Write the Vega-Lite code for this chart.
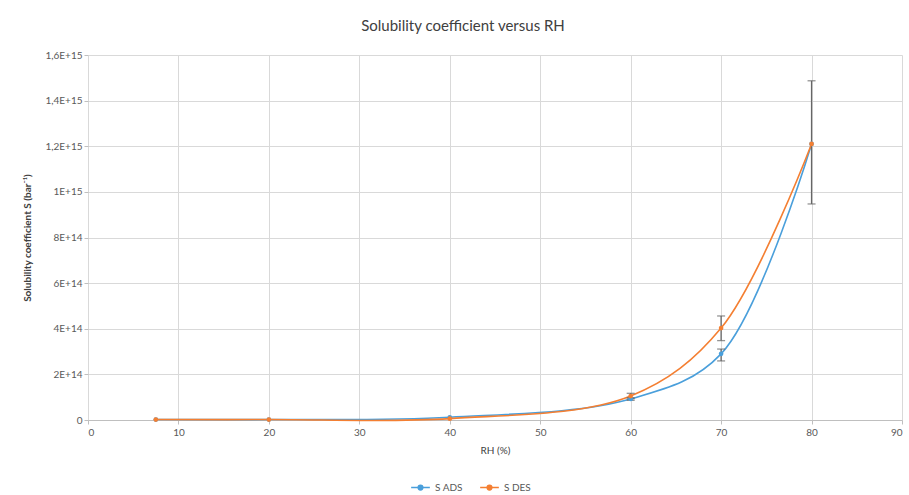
{
  "$schema": "https://vega.github.io/schema/vega-lite/v6.json",
  "width": 814,
  "height": 365,
  "autosize": "none",
  "padding": {"left": 88, "top": 55, "right": 7, "bottom": 75},
  "background": "white",
  "config": {
    "font": "Lato",
    "view": {"stroke": null},
    "axis": {"labelColor": "#595959", "labelFontSize": 10, "titleColor": "#404040", "gridColor": "#D9D9D9", "domainColor": "#BFBFBF", "tickColor": "#BFBFBF", "titleFontWeight": "normal"}
  },
  "title": {"text": "Solubility coefficient versus RH", "fontSize": 15, "fontWeight": "normal", "color": "#404040", "dx": -32, "offset": 16},
  "datasets": {
    "pts": [
      {"rh": 7.5, "s": 2e12, "series": "S ADS"},
      {"rh": 20, "s": 2e12, "series": "S ADS"},
      {"rh": 40, "s": 1.2e13, "series": "S ADS"},
      {"rh": 60, "s": 9.2e13, "series": "S ADS"},
      {"rh": 70, "s": 2.9e14, "series": "S ADS"},
      {"rh": 80, "s": 1.21e15, "series": "S ADS"},
      {"rh": 7.5, "s": 2e12, "series": "S DES"},
      {"rh": 20, "s": 2e12, "series": "S DES"},
      {"rh": 40, "s": 6e12, "series": "S DES"},
      {"rh": 60, "s": 1.05e14, "series": "S DES"},
      {"rh": 70, "s": 4.03e14, "series": "S DES"},
      {"rh": 80, "s": 1.21e15, "series": "S DES"}
    ],
    "err": [
      {"rh": 60, "lo": 8.6e13, "hi": 9.8e13},
      {"rh": 60, "lo": 9.3e13, "hi": 1.17e14},
      {"rh": 70, "lo": 2.59e14, "hi": 3.11e14},
      {"rh": 70, "lo": 3.48e14, "hi": 4.56e14},
      {"rh": 80, "lo": 9.47e14, "hi": 1.487e15}
    ]
  },
  "layer": [
    {
      "data": {"name": "pts"},
      "mark": {"type": "line", "interpolate": "catmull-rom", "strokeWidth": 1.6},
      "encoding": {
        "x": {"field": "rh", "type": "quantitative", "scale": {"domain": [0, 90], "nice": false}, "axis": {"values": [0,10,20,30,40,50,60,70,80,90], "title": "RH (%)", "titleFontSize": 10, "titlePadding": 8, "tickSize": 4, "labelPadding": 3}},
        "y": {"field": "s", "type": "quantitative", "scale": {"domain": [0, 1.6e15], "nice": false}, "axis": {"values": [0,2e14,4e14,6e14,8e14,1e15,1.2e15,1.4e15,1.6e15], "labelExpr": "datum.value == 0 ? '0' : replace(upper(format(datum.value, '.1~e')), '.', ',')", "title": "Solubility coefficient S (bar⁻¹)", "titleFontSize": 10, "titleFontWeight": "bold", "titlePadding": 12, "tickSize": 4, "domain": false}},
        "color": {"field": "series", "type": "nominal", "scale": {"domain": ["S ADS", "S DES"], "range": ["#4A9FDB", "#F47F32"]}, "legend": {"title": null, "orient": "none", "legendX": 322, "legendY": 422, "direction": "horizontal", "symbolType": "M-1,0H1M-0.25,0a0.25,0.25 0 1,0 0.5,0a0.25,0.25 0 1,0 -0.5,0", "symbolSize": 350, "symbolStrokeWidth": 1.5, "labelFontSize": 10, "labelColor": "#595959", "columnPadding": 14}}
      }
    },
    {
      "data": {"name": "err"},
      "mark": {"type": "rule", "color": "#666666", "strokeWidth": 1.3},
      "encoding": {"x": {"field": "rh", "type": "quantitative"}, "y": {"field": "lo", "type": "quantitative"}, "y2": {"field": "hi"}}
    },
    {
      "data": {"name": "err"},
      "mark": {"type": "tick", "orient": "horizontal", "color": "#666666", "size": 8, "thickness": 1.3},
      "encoding": {"x": {"field": "rh", "type": "quantitative"}, "y": {"field": "lo", "type": "quantitative"}}
    },
    {
      "data": {"name": "err"},
      "mark": {"type": "tick", "orient": "horizontal", "color": "#666666", "size": 8, "thickness": 1.3},
      "encoding": {"x": {"field": "rh", "type": "quantitative"}, "y": {"field": "hi", "type": "quantitative"}}
    },
    {
      "data": {"name": "pts"},
      "mark": {"type": "point", "filled": true, "opacity": 1, "size": 22},
      "encoding": {
        "x": {"field": "rh", "type": "quantitative"},
        "y": {"field": "s", "type": "quantitative"},
        "color": {"field": "series", "type": "nominal"}
      }
    }
  ]
}
